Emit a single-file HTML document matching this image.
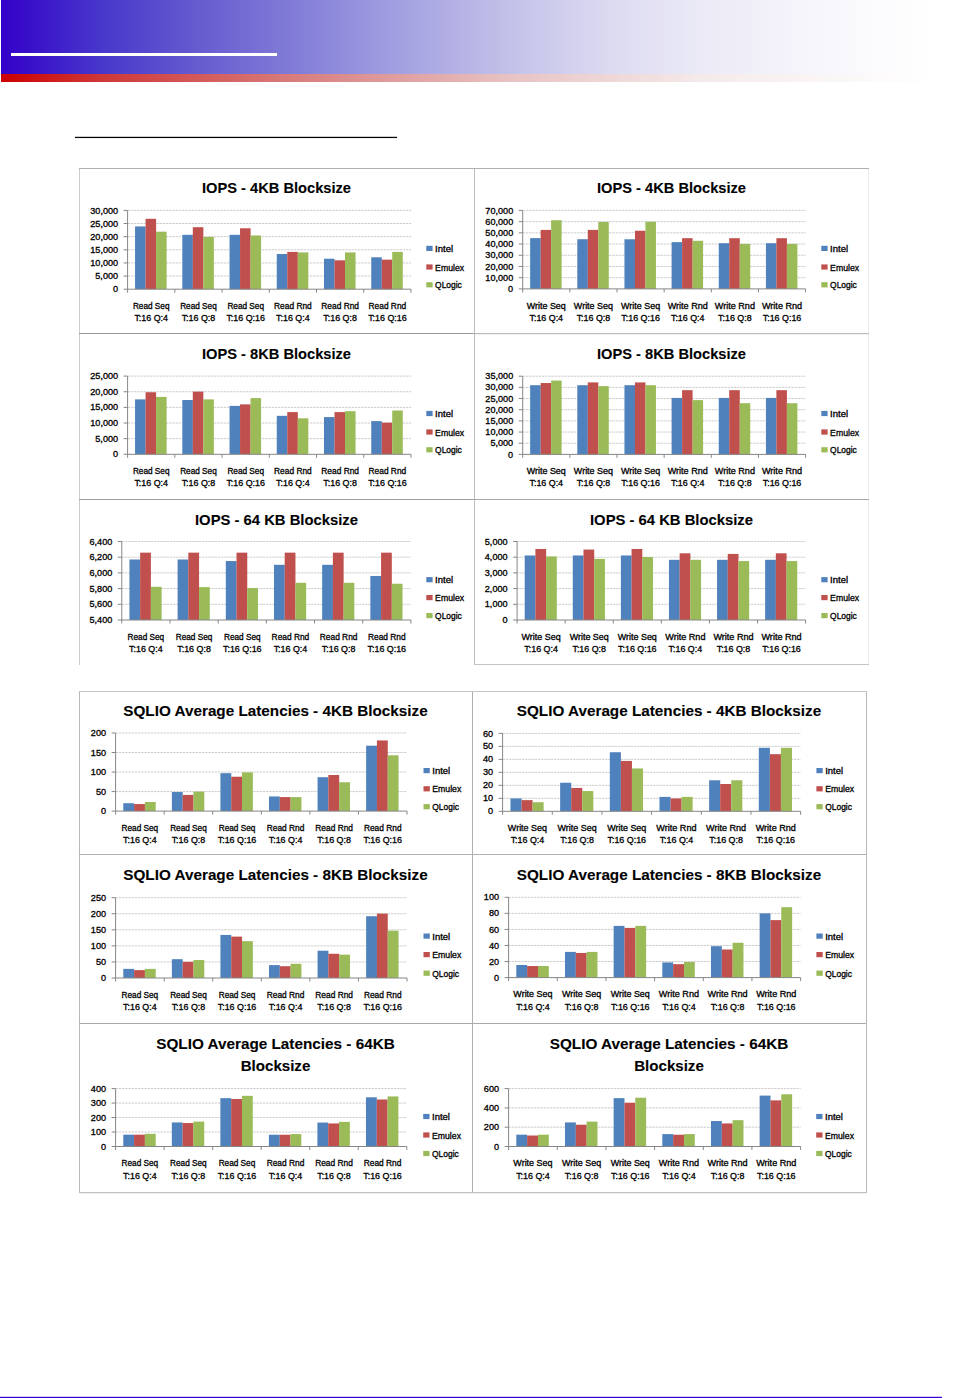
<!DOCTYPE html>
<html><head><meta charset="utf-8"><title>SQLIO results</title>
<style>
html,body{margin:0;padding:0;background:#fff;}
body{width:966px;height:1398px;position:relative;overflow:hidden;font-family:"Liberation Sans",sans-serif;}
svg{position:absolute;left:0;top:0;}
text{font-family:"Liberation Sans",sans-serif;font-size:8.5px;fill:#000;stroke:#000;stroke-width:0.3px;}
.t{font-size:15px;font-weight:bold;stroke-width:0.1px;}
.g{stroke:#cdcdcd;stroke-width:1;stroke-dasharray:2.4 0.8;}
.a{stroke:#868686;stroke-width:1;}
.b{stroke:#a9a9a9;stroke-width:1;}
.b2{stroke:#c4c4c4;stroke-width:1;}
.d{stroke:#8f8f8f;stroke-width:1;}
</style></head>
<body>
<svg width="966" height="1398" viewBox="0 0 966 1398">
<defs>
<linearGradient id="gb" gradientUnits="userSpaceOnUse" x1="1" y1="0" x2="966" y2="0">
<stop offset="0" stop-color="#3300c8"/>
<stop offset="0.1078" stop-color="#4939cc"/>
<stop offset="0.2145" stop-color="#6a5fd0"/>
<stop offset="0.3150" stop-color="#8580d8"/>
<stop offset="0.4187" stop-color="#a5a2e2"/>
<stop offset="0.5223" stop-color="#c2c0e8"/>
<stop offset="0.6259" stop-color="#dbd9f0"/>
<stop offset="0.7295" stop-color="#ebeaf6"/>
<stop offset="0.8332" stop-color="#f6f5fb"/>
<stop offset="0.9627" stop-color="#ffffff"/>
<stop offset="1" stop-color="#ffffff"/>
</linearGradient>
<linearGradient id="gr" gradientUnits="userSpaceOnUse" x1="1" y1="0" x2="966" y2="0">
<stop offset="0" stop-color="#cc0000"/>
<stop offset="0.1067" stop-color="#cf3939"/>
<stop offset="0.2145" stop-color="#d45d5d"/>
<stop offset="0.3140" stop-color="#d98080"/>
<stop offset="0.5254" stop-color="#e8c2c2"/>
<stop offset="0.7285" stop-color="#f5eaea"/>
<stop offset="0.9627" stop-color="#ffffff"/>
<stop offset="1" stop-color="#ffffff"/>
</linearGradient>
</defs>
<rect x="1" y="0" width="965" height="74" fill="url(#gb)"/>
<rect x="1" y="74" width="965" height="8" fill="url(#gr)"/>
<rect x="11" y="53" width="266" height="3" fill="#fff"/>
<rect x="75" y="136.8" width="322" height="1.25" fill="#000"/>
<rect x="0" y="1396.8" width="942" height="1.2" fill="#3300cc"/>

<line x1="79" y1="168.5" x2="869" y2="168.5" stroke="#b0b0b0"/>
<line x1="79.5" y1="169" x2="79.5" y2="665" stroke="#cccccc"/>
<line x1="474.5" y1="169" x2="474.5" y2="665" stroke="#bbbbbb"/>
<line x1="868.5" y1="169" x2="868.5" y2="665" stroke="#ececec"/>
<line x1="79" y1="333.5" x2="474" y2="333.5" stroke="#9a9a9a"/>
<line x1="475" y1="333.7" x2="869" y2="333.7" stroke="#adadad"/>
<line x1="79" y1="499.5" x2="474" y2="499.5" stroke="#a0a0a0"/>
<line x1="475" y1="499.5" x2="869" y2="499.5" stroke="#a8a8a8"/>
<line x1="474" y1="664.5" x2="869" y2="664.5" stroke="#c4c4c4"/>
<line x1="79" y1="691.5" x2="867" y2="691.5" stroke="#c4c4c4"/>
<line x1="79.5" y1="692" x2="79.5" y2="1192" stroke="#b8b8b8"/>
<line x1="866.5" y1="692" x2="866.5" y2="1192" stroke="#b8b8b8"/>
<line x1="79" y1="1192.6" x2="867" y2="1192.6" stroke="#c0c0c0" stroke-width="1.3"/>
<line x1="472.5" y1="692" x2="472.5" y2="1192" stroke="#b0b0b0"/>
<line x1="79" y1="854.5" x2="866" y2="854.5" stroke="#b0b0b0"/>
<line x1="79" y1="1023.5" x2="866" y2="1023.5" stroke="#aaaaaa"/>

<line x1="123.60" y1="289.20" x2="127.60" y2="289.20" class="a"/>
<text x="118.10" y="292.30" text-anchor="end" textLength="5.07" lengthAdjust="spacingAndGlyphs">0</text>
<line x1="127.60" y1="276.07" x2="411.00" y2="276.07" class="g"/>
<line x1="123.60" y1="276.07" x2="127.60" y2="276.07" class="a"/>
<text x="118.10" y="279.17" text-anchor="end" textLength="22.78" lengthAdjust="spacingAndGlyphs">5,000</text>
<line x1="127.60" y1="262.93" x2="411.00" y2="262.93" class="g"/>
<line x1="123.60" y1="262.93" x2="127.60" y2="262.93" class="a"/>
<text x="118.10" y="266.03" text-anchor="end" textLength="27.85" lengthAdjust="spacingAndGlyphs">10,000</text>
<line x1="127.60" y1="249.80" x2="411.00" y2="249.80" class="g"/>
<line x1="123.60" y1="249.80" x2="127.60" y2="249.80" class="a"/>
<text x="118.10" y="252.90" text-anchor="end" textLength="27.85" lengthAdjust="spacingAndGlyphs">15,000</text>
<line x1="127.60" y1="236.67" x2="411.00" y2="236.67" class="g"/>
<line x1="123.60" y1="236.67" x2="127.60" y2="236.67" class="a"/>
<text x="118.10" y="239.77" text-anchor="end" textLength="27.85" lengthAdjust="spacingAndGlyphs">20,000</text>
<line x1="127.60" y1="223.53" x2="411.00" y2="223.53" class="g"/>
<line x1="123.60" y1="223.53" x2="127.60" y2="223.53" class="a"/>
<text x="118.10" y="226.63" text-anchor="end" textLength="27.85" lengthAdjust="spacingAndGlyphs">25,000</text>
<line x1="127.60" y1="210.40" x2="411.00" y2="210.40" class="g"/>
<line x1="123.60" y1="210.40" x2="127.60" y2="210.40" class="a"/>
<text x="118.10" y="213.50" text-anchor="end" textLength="27.85" lengthAdjust="spacingAndGlyphs">30,000</text>
<rect x="135.07" y="226.42" width="10.55" height="62.78" fill="#4f81bd"/>
<rect x="145.57" y="218.81" width="10.55" height="70.39" fill="#c0504d"/>
<rect x="156.06" y="231.68" width="10.55" height="57.52" fill="#9bbb59"/>
<rect x="182.31" y="234.83" width="10.55" height="54.37" fill="#4f81bd"/>
<rect x="192.80" y="227.21" width="10.55" height="61.99" fill="#c0504d"/>
<rect x="203.30" y="236.93" width="10.55" height="52.27" fill="#9bbb59"/>
<rect x="229.54" y="234.83" width="10.55" height="54.37" fill="#4f81bd"/>
<rect x="240.04" y="228.26" width="10.55" height="60.94" fill="#c0504d"/>
<rect x="250.53" y="235.48" width="10.55" height="53.72" fill="#9bbb59"/>
<rect x="276.77" y="254.00" width="10.55" height="35.20" fill="#4f81bd"/>
<rect x="287.27" y="251.90" width="10.55" height="37.30" fill="#c0504d"/>
<rect x="297.76" y="252.43" width="10.55" height="36.77" fill="#9bbb59"/>
<rect x="324.01" y="258.73" width="10.55" height="30.47" fill="#4f81bd"/>
<rect x="334.50" y="260.31" width="10.55" height="28.89" fill="#c0504d"/>
<rect x="345.00" y="252.43" width="10.55" height="36.77" fill="#9bbb59"/>
<rect x="371.24" y="257.29" width="10.55" height="31.91" fill="#4f81bd"/>
<rect x="381.74" y="259.65" width="10.55" height="29.55" fill="#c0504d"/>
<rect x="392.23" y="251.90" width="10.55" height="37.30" fill="#9bbb59"/>
<line x1="127.60" y1="210.40" x2="127.60" y2="292.70" class="a"/>
<line x1="127.60" y1="289.20" x2="411.00" y2="289.20" class="a"/>
<line x1="174.83" y1="289.20" x2="174.83" y2="292.70" class="a"/>
<line x1="222.07" y1="289.20" x2="222.07" y2="292.70" class="a"/>
<line x1="269.30" y1="289.20" x2="269.30" y2="292.70" class="a"/>
<line x1="316.53" y1="289.20" x2="316.53" y2="292.70" class="a"/>
<line x1="363.77" y1="289.20" x2="363.77" y2="292.70" class="a"/>
<line x1="411.00" y1="289.20" x2="411.00" y2="292.70" class="a"/>
<text x="151.22" y="308.80" text-anchor="middle" textLength="36.59" lengthAdjust="spacingAndGlyphs">Read Seq</text>
<text x="151.22" y="321.20" text-anchor="middle" textLength="33.57" lengthAdjust="spacingAndGlyphs">T:16 Q:4</text>
<text x="198.45" y="308.80" text-anchor="middle" textLength="36.59" lengthAdjust="spacingAndGlyphs">Read Seq</text>
<text x="198.45" y="321.20" text-anchor="middle" textLength="33.57" lengthAdjust="spacingAndGlyphs">T:16 Q:8</text>
<text x="245.68" y="308.80" text-anchor="middle" textLength="36.59" lengthAdjust="spacingAndGlyphs">Read Seq</text>
<text x="245.68" y="321.20" text-anchor="middle" textLength="38.51" lengthAdjust="spacingAndGlyphs">T:16 Q:16</text>
<text x="292.92" y="308.80" text-anchor="middle" textLength="37.67" lengthAdjust="spacingAndGlyphs">Read Rnd</text>
<text x="292.92" y="321.20" text-anchor="middle" textLength="33.57" lengthAdjust="spacingAndGlyphs">T:16 Q:4</text>
<text x="340.15" y="308.80" text-anchor="middle" textLength="37.67" lengthAdjust="spacingAndGlyphs">Read Rnd</text>
<text x="340.15" y="321.20" text-anchor="middle" textLength="33.57" lengthAdjust="spacingAndGlyphs">T:16 Q:8</text>
<text x="387.38" y="308.80" text-anchor="middle" textLength="37.67" lengthAdjust="spacingAndGlyphs">Read Rnd</text>
<text x="387.38" y="321.20" text-anchor="middle" textLength="38.51" lengthAdjust="spacingAndGlyphs">T:16 Q:16</text>
<rect x="426.30" y="245.80" width="6.3" height="5.2" fill="#4f81bd"/>
<text x="435.10" y="252.00" textLength="17.93" lengthAdjust="spacingAndGlyphs">Intel</text>
<rect x="426.30" y="264.40" width="6.3" height="5.2" fill="#c0504d"/>
<text x="435.10" y="270.60" textLength="28.98" lengthAdjust="spacingAndGlyphs">Emulex</text>
<rect x="426.30" y="282.20" width="6.3" height="5.2" fill="#9bbb59"/>
<text x="435.10" y="288.40" textLength="26.74" lengthAdjust="spacingAndGlyphs">QLogic</text>
<text x="276.50" y="193.10" text-anchor="middle" class="t" textLength="149" lengthAdjust="spacingAndGlyphs">IOPS - 4KB Blocksize</text>
<line x1="518.70" y1="288.90" x2="522.70" y2="288.90" class="a"/>
<text x="513.20" y="292.00" text-anchor="end" textLength="5.07" lengthAdjust="spacingAndGlyphs">0</text>
<line x1="522.70" y1="277.69" x2="805.60" y2="277.69" class="g"/>
<line x1="518.70" y1="277.69" x2="522.70" y2="277.69" class="a"/>
<text x="513.20" y="280.79" text-anchor="end" textLength="27.85" lengthAdjust="spacingAndGlyphs">10,000</text>
<line x1="522.70" y1="266.47" x2="805.60" y2="266.47" class="g"/>
<line x1="518.70" y1="266.47" x2="522.70" y2="266.47" class="a"/>
<text x="513.20" y="269.57" text-anchor="end" textLength="27.85" lengthAdjust="spacingAndGlyphs">20,000</text>
<line x1="522.70" y1="255.26" x2="805.60" y2="255.26" class="g"/>
<line x1="518.70" y1="255.26" x2="522.70" y2="255.26" class="a"/>
<text x="513.20" y="258.36" text-anchor="end" textLength="27.85" lengthAdjust="spacingAndGlyphs">30,000</text>
<line x1="522.70" y1="244.04" x2="805.60" y2="244.04" class="g"/>
<line x1="518.70" y1="244.04" x2="522.70" y2="244.04" class="a"/>
<text x="513.20" y="247.14" text-anchor="end" textLength="27.85" lengthAdjust="spacingAndGlyphs">40,000</text>
<line x1="522.70" y1="232.83" x2="805.60" y2="232.83" class="g"/>
<line x1="518.70" y1="232.83" x2="522.70" y2="232.83" class="a"/>
<text x="513.20" y="235.93" text-anchor="end" textLength="27.85" lengthAdjust="spacingAndGlyphs">50,000</text>
<line x1="522.70" y1="221.61" x2="805.60" y2="221.61" class="g"/>
<line x1="518.70" y1="221.61" x2="522.70" y2="221.61" class="a"/>
<text x="513.20" y="224.71" text-anchor="end" textLength="27.85" lengthAdjust="spacingAndGlyphs">60,000</text>
<line x1="522.70" y1="210.40" x2="805.60" y2="210.40" class="g"/>
<line x1="518.70" y1="210.40" x2="522.70" y2="210.40" class="a"/>
<text x="513.20" y="213.50" text-anchor="end" textLength="27.85" lengthAdjust="spacingAndGlyphs">70,000</text>
<rect x="530.16" y="238.10" width="10.53" height="50.80" fill="#4f81bd"/>
<rect x="540.64" y="229.91" width="10.53" height="58.99" fill="#c0504d"/>
<rect x="551.11" y="220.21" width="10.53" height="68.69" fill="#9bbb59"/>
<rect x="577.31" y="239.22" width="10.53" height="49.68" fill="#4f81bd"/>
<rect x="587.79" y="229.91" width="10.53" height="58.99" fill="#c0504d"/>
<rect x="598.26" y="221.95" width="10.53" height="66.95" fill="#9bbb59"/>
<rect x="624.46" y="239.28" width="10.53" height="49.62" fill="#4f81bd"/>
<rect x="634.94" y="230.75" width="10.53" height="58.15" fill="#c0504d"/>
<rect x="645.41" y="221.79" width="10.53" height="67.11" fill="#9bbb59"/>
<rect x="671.61" y="242.14" width="10.53" height="46.76" fill="#4f81bd"/>
<rect x="682.09" y="238.19" width="10.53" height="50.71" fill="#c0504d"/>
<rect x="692.56" y="240.81" width="10.53" height="48.09" fill="#9bbb59"/>
<rect x="718.76" y="243.21" width="10.53" height="45.69" fill="#4f81bd"/>
<rect x="729.24" y="238.19" width="10.53" height="50.71" fill="#c0504d"/>
<rect x="739.71" y="243.87" width="10.53" height="45.03" fill="#9bbb59"/>
<rect x="765.91" y="243.21" width="10.53" height="45.69" fill="#4f81bd"/>
<rect x="776.39" y="238.19" width="10.53" height="50.71" fill="#c0504d"/>
<rect x="786.86" y="243.87" width="10.53" height="45.03" fill="#9bbb59"/>
<line x1="522.70" y1="210.40" x2="522.70" y2="292.40" class="a"/>
<line x1="522.70" y1="288.90" x2="805.60" y2="288.90" class="a"/>
<line x1="569.85" y1="288.90" x2="569.85" y2="292.40" class="a"/>
<line x1="617.00" y1="288.90" x2="617.00" y2="292.40" class="a"/>
<line x1="664.15" y1="288.90" x2="664.15" y2="292.40" class="a"/>
<line x1="711.30" y1="288.90" x2="711.30" y2="292.40" class="a"/>
<line x1="758.45" y1="288.90" x2="758.45" y2="292.40" class="a"/>
<line x1="805.60" y1="288.90" x2="805.60" y2="292.40" class="a"/>
<text x="546.28" y="308.50" text-anchor="middle" textLength="39.09" lengthAdjust="spacingAndGlyphs">Write Seq</text>
<text x="546.28" y="320.90" text-anchor="middle" textLength="33.57" lengthAdjust="spacingAndGlyphs">T:16 Q:4</text>
<text x="593.43" y="308.50" text-anchor="middle" textLength="39.09" lengthAdjust="spacingAndGlyphs">Write Seq</text>
<text x="593.43" y="320.90" text-anchor="middle" textLength="33.57" lengthAdjust="spacingAndGlyphs">T:16 Q:8</text>
<text x="640.58" y="308.50" text-anchor="middle" textLength="39.09" lengthAdjust="spacingAndGlyphs">Write Seq</text>
<text x="640.58" y="320.90" text-anchor="middle" textLength="38.51" lengthAdjust="spacingAndGlyphs">T:16 Q:16</text>
<text x="687.73" y="308.50" text-anchor="middle" textLength="40.17" lengthAdjust="spacingAndGlyphs">Write Rnd</text>
<text x="687.73" y="320.90" text-anchor="middle" textLength="33.57" lengthAdjust="spacingAndGlyphs">T:16 Q:4</text>
<text x="734.88" y="308.50" text-anchor="middle" textLength="40.17" lengthAdjust="spacingAndGlyphs">Write Rnd</text>
<text x="734.88" y="320.90" text-anchor="middle" textLength="33.57" lengthAdjust="spacingAndGlyphs">T:16 Q:8</text>
<text x="782.03" y="308.50" text-anchor="middle" textLength="40.17" lengthAdjust="spacingAndGlyphs">Write Rnd</text>
<text x="782.03" y="320.90" text-anchor="middle" textLength="38.51" lengthAdjust="spacingAndGlyphs">T:16 Q:16</text>
<rect x="821.30" y="245.80" width="6.3" height="5.2" fill="#4f81bd"/>
<text x="830.10" y="252.00" textLength="17.93" lengthAdjust="spacingAndGlyphs">Intel</text>
<rect x="821.30" y="264.40" width="6.3" height="5.2" fill="#c0504d"/>
<text x="830.10" y="270.60" textLength="28.98" lengthAdjust="spacingAndGlyphs">Emulex</text>
<rect x="821.30" y="282.20" width="6.3" height="5.2" fill="#9bbb59"/>
<text x="830.10" y="288.40" textLength="26.74" lengthAdjust="spacingAndGlyphs">QLogic</text>
<text x="671.50" y="193.10" text-anchor="middle" class="t" textLength="149" lengthAdjust="spacingAndGlyphs">IOPS - 4KB Blocksize</text>
<line x1="123.60" y1="454.30" x2="127.60" y2="454.30" class="a"/>
<text x="118.10" y="457.40" text-anchor="end" textLength="5.07" lengthAdjust="spacingAndGlyphs">0</text>
<line x1="127.60" y1="438.66" x2="411.00" y2="438.66" class="g"/>
<line x1="123.60" y1="438.66" x2="127.60" y2="438.66" class="a"/>
<text x="118.10" y="441.76" text-anchor="end" textLength="22.78" lengthAdjust="spacingAndGlyphs">5,000</text>
<line x1="127.60" y1="423.02" x2="411.00" y2="423.02" class="g"/>
<line x1="123.60" y1="423.02" x2="127.60" y2="423.02" class="a"/>
<text x="118.10" y="426.12" text-anchor="end" textLength="27.85" lengthAdjust="spacingAndGlyphs">10,000</text>
<line x1="127.60" y1="407.38" x2="411.00" y2="407.38" class="g"/>
<line x1="123.60" y1="407.38" x2="127.60" y2="407.38" class="a"/>
<text x="118.10" y="410.48" text-anchor="end" textLength="27.85" lengthAdjust="spacingAndGlyphs">15,000</text>
<line x1="127.60" y1="391.74" x2="411.00" y2="391.74" class="g"/>
<line x1="123.60" y1="391.74" x2="127.60" y2="391.74" class="a"/>
<text x="118.10" y="394.84" text-anchor="end" textLength="27.85" lengthAdjust="spacingAndGlyphs">20,000</text>
<line x1="127.60" y1="376.10" x2="411.00" y2="376.10" class="g"/>
<line x1="123.60" y1="376.10" x2="127.60" y2="376.10" class="a"/>
<text x="118.10" y="379.20" text-anchor="end" textLength="27.85" lengthAdjust="spacingAndGlyphs">25,000</text>
<rect x="135.07" y="399.37" width="10.55" height="54.93" fill="#4f81bd"/>
<rect x="145.57" y="392.24" width="10.55" height="62.06" fill="#c0504d"/>
<rect x="156.06" y="396.90" width="10.55" height="57.40" fill="#9bbb59"/>
<rect x="182.31" y="400.00" width="10.55" height="54.30" fill="#4f81bd"/>
<rect x="192.80" y="391.61" width="10.55" height="62.69" fill="#c0504d"/>
<rect x="203.30" y="399.37" width="10.55" height="54.93" fill="#9bbb59"/>
<rect x="229.54" y="405.88" width="10.55" height="48.42" fill="#4f81bd"/>
<rect x="240.04" y="404.35" width="10.55" height="49.95" fill="#c0504d"/>
<rect x="250.53" y="398.12" width="10.55" height="56.18" fill="#9bbb59"/>
<rect x="276.77" y="415.83" width="10.55" height="38.47" fill="#4f81bd"/>
<rect x="287.27" y="412.10" width="10.55" height="42.20" fill="#c0504d"/>
<rect x="297.76" y="418.30" width="10.55" height="36.00" fill="#9bbb59"/>
<rect x="324.01" y="417.08" width="10.55" height="37.22" fill="#4f81bd"/>
<rect x="334.50" y="412.10" width="10.55" height="42.20" fill="#c0504d"/>
<rect x="345.00" y="411.16" width="10.55" height="43.14" fill="#9bbb59"/>
<rect x="371.24" y="421.10" width="10.55" height="33.20" fill="#4f81bd"/>
<rect x="381.74" y="422.64" width="10.55" height="31.66" fill="#c0504d"/>
<rect x="392.23" y="410.54" width="10.55" height="43.76" fill="#9bbb59"/>
<line x1="127.60" y1="376.10" x2="127.60" y2="457.80" class="a"/>
<line x1="127.60" y1="454.30" x2="411.00" y2="454.30" class="a"/>
<line x1="174.83" y1="454.30" x2="174.83" y2="457.80" class="a"/>
<line x1="222.07" y1="454.30" x2="222.07" y2="457.80" class="a"/>
<line x1="269.30" y1="454.30" x2="269.30" y2="457.80" class="a"/>
<line x1="316.53" y1="454.30" x2="316.53" y2="457.80" class="a"/>
<line x1="363.77" y1="454.30" x2="363.77" y2="457.80" class="a"/>
<line x1="411.00" y1="454.30" x2="411.00" y2="457.80" class="a"/>
<text x="151.22" y="473.90" text-anchor="middle" textLength="36.59" lengthAdjust="spacingAndGlyphs">Read Seq</text>
<text x="151.22" y="486.30" text-anchor="middle" textLength="33.57" lengthAdjust="spacingAndGlyphs">T:16 Q:4</text>
<text x="198.45" y="473.90" text-anchor="middle" textLength="36.59" lengthAdjust="spacingAndGlyphs">Read Seq</text>
<text x="198.45" y="486.30" text-anchor="middle" textLength="33.57" lengthAdjust="spacingAndGlyphs">T:16 Q:8</text>
<text x="245.68" y="473.90" text-anchor="middle" textLength="36.59" lengthAdjust="spacingAndGlyphs">Read Seq</text>
<text x="245.68" y="486.30" text-anchor="middle" textLength="38.51" lengthAdjust="spacingAndGlyphs">T:16 Q:16</text>
<text x="292.92" y="473.90" text-anchor="middle" textLength="37.67" lengthAdjust="spacingAndGlyphs">Read Rnd</text>
<text x="292.92" y="486.30" text-anchor="middle" textLength="33.57" lengthAdjust="spacingAndGlyphs">T:16 Q:4</text>
<text x="340.15" y="473.90" text-anchor="middle" textLength="37.67" lengthAdjust="spacingAndGlyphs">Read Rnd</text>
<text x="340.15" y="486.30" text-anchor="middle" textLength="33.57" lengthAdjust="spacingAndGlyphs">T:16 Q:8</text>
<text x="387.38" y="473.90" text-anchor="middle" textLength="37.67" lengthAdjust="spacingAndGlyphs">Read Rnd</text>
<text x="387.38" y="486.30" text-anchor="middle" textLength="38.51" lengthAdjust="spacingAndGlyphs">T:16 Q:16</text>
<rect x="426.30" y="410.90" width="6.3" height="5.2" fill="#4f81bd"/>
<text x="435.10" y="417.10" textLength="17.93" lengthAdjust="spacingAndGlyphs">Intel</text>
<rect x="426.30" y="429.40" width="6.3" height="5.2" fill="#c0504d"/>
<text x="435.10" y="435.60" textLength="28.98" lengthAdjust="spacingAndGlyphs">Emulex</text>
<rect x="426.30" y="447.20" width="6.3" height="5.2" fill="#9bbb59"/>
<text x="435.10" y="453.40" textLength="26.74" lengthAdjust="spacingAndGlyphs">QLogic</text>
<text x="276.50" y="358.50" text-anchor="middle" class="t" textLength="149" lengthAdjust="spacingAndGlyphs">IOPS - 8KB Blocksize</text>
<line x1="518.70" y1="454.40" x2="522.70" y2="454.40" class="a"/>
<text x="513.20" y="457.50" text-anchor="end" textLength="5.07" lengthAdjust="spacingAndGlyphs">0</text>
<line x1="522.70" y1="443.23" x2="805.60" y2="443.23" class="g"/>
<line x1="518.70" y1="443.23" x2="522.70" y2="443.23" class="a"/>
<text x="513.20" y="446.33" text-anchor="end" textLength="22.78" lengthAdjust="spacingAndGlyphs">5,000</text>
<line x1="522.70" y1="432.06" x2="805.60" y2="432.06" class="g"/>
<line x1="518.70" y1="432.06" x2="522.70" y2="432.06" class="a"/>
<text x="513.20" y="435.16" text-anchor="end" textLength="27.85" lengthAdjust="spacingAndGlyphs">10,000</text>
<line x1="522.70" y1="420.89" x2="805.60" y2="420.89" class="g"/>
<line x1="518.70" y1="420.89" x2="522.70" y2="420.89" class="a"/>
<text x="513.20" y="423.99" text-anchor="end" textLength="27.85" lengthAdjust="spacingAndGlyphs">15,000</text>
<line x1="522.70" y1="409.71" x2="805.60" y2="409.71" class="g"/>
<line x1="518.70" y1="409.71" x2="522.70" y2="409.71" class="a"/>
<text x="513.20" y="412.81" text-anchor="end" textLength="27.85" lengthAdjust="spacingAndGlyphs">20,000</text>
<line x1="522.70" y1="398.54" x2="805.60" y2="398.54" class="g"/>
<line x1="518.70" y1="398.54" x2="522.70" y2="398.54" class="a"/>
<text x="513.20" y="401.64" text-anchor="end" textLength="27.85" lengthAdjust="spacingAndGlyphs">25,000</text>
<line x1="522.70" y1="387.37" x2="805.60" y2="387.37" class="g"/>
<line x1="518.70" y1="387.37" x2="522.70" y2="387.37" class="a"/>
<text x="513.20" y="390.47" text-anchor="end" textLength="27.85" lengthAdjust="spacingAndGlyphs">30,000</text>
<line x1="522.70" y1="376.20" x2="805.60" y2="376.20" class="g"/>
<line x1="518.70" y1="376.20" x2="522.70" y2="376.20" class="a"/>
<text x="513.20" y="379.30" text-anchor="end" textLength="27.85" lengthAdjust="spacingAndGlyphs">35,000</text>
<rect x="530.16" y="385.20" width="10.53" height="69.20" fill="#4f81bd"/>
<rect x="540.64" y="383.04" width="10.53" height="71.36" fill="#c0504d"/>
<rect x="551.11" y="380.56" width="10.53" height="73.84" fill="#9bbb59"/>
<rect x="577.31" y="385.20" width="10.53" height="69.20" fill="#4f81bd"/>
<rect x="587.79" y="382.41" width="10.53" height="71.99" fill="#c0504d"/>
<rect x="598.26" y="386.14" width="10.53" height="68.26" fill="#9bbb59"/>
<rect x="624.46" y="385.20" width="10.53" height="69.20" fill="#4f81bd"/>
<rect x="634.94" y="382.41" width="10.53" height="71.99" fill="#c0504d"/>
<rect x="645.41" y="385.20" width="10.53" height="69.20" fill="#9bbb59"/>
<rect x="671.61" y="397.92" width="10.53" height="56.48" fill="#4f81bd"/>
<rect x="682.09" y="390.16" width="10.53" height="64.24" fill="#c0504d"/>
<rect x="692.56" y="400.11" width="10.53" height="54.29" fill="#9bbb59"/>
<rect x="718.76" y="397.92" width="10.53" height="56.48" fill="#4f81bd"/>
<rect x="729.24" y="390.16" width="10.53" height="64.24" fill="#c0504d"/>
<rect x="739.71" y="403.19" width="10.53" height="51.21" fill="#9bbb59"/>
<rect x="765.91" y="397.92" width="10.53" height="56.48" fill="#4f81bd"/>
<rect x="776.39" y="390.16" width="10.53" height="64.24" fill="#c0504d"/>
<rect x="786.86" y="403.19" width="10.53" height="51.21" fill="#9bbb59"/>
<line x1="522.70" y1="376.20" x2="522.70" y2="457.90" class="a"/>
<line x1="522.70" y1="454.40" x2="805.60" y2="454.40" class="a"/>
<line x1="569.85" y1="454.40" x2="569.85" y2="457.90" class="a"/>
<line x1="617.00" y1="454.40" x2="617.00" y2="457.90" class="a"/>
<line x1="664.15" y1="454.40" x2="664.15" y2="457.90" class="a"/>
<line x1="711.30" y1="454.40" x2="711.30" y2="457.90" class="a"/>
<line x1="758.45" y1="454.40" x2="758.45" y2="457.90" class="a"/>
<line x1="805.60" y1="454.40" x2="805.60" y2="457.90" class="a"/>
<text x="546.28" y="474.00" text-anchor="middle" textLength="39.09" lengthAdjust="spacingAndGlyphs">Write Seq</text>
<text x="546.28" y="486.40" text-anchor="middle" textLength="33.57" lengthAdjust="spacingAndGlyphs">T:16 Q:4</text>
<text x="593.43" y="474.00" text-anchor="middle" textLength="39.09" lengthAdjust="spacingAndGlyphs">Write Seq</text>
<text x="593.43" y="486.40" text-anchor="middle" textLength="33.57" lengthAdjust="spacingAndGlyphs">T:16 Q:8</text>
<text x="640.58" y="474.00" text-anchor="middle" textLength="39.09" lengthAdjust="spacingAndGlyphs">Write Seq</text>
<text x="640.58" y="486.40" text-anchor="middle" textLength="38.51" lengthAdjust="spacingAndGlyphs">T:16 Q:16</text>
<text x="687.73" y="474.00" text-anchor="middle" textLength="40.17" lengthAdjust="spacingAndGlyphs">Write Rnd</text>
<text x="687.73" y="486.40" text-anchor="middle" textLength="33.57" lengthAdjust="spacingAndGlyphs">T:16 Q:4</text>
<text x="734.88" y="474.00" text-anchor="middle" textLength="40.17" lengthAdjust="spacingAndGlyphs">Write Rnd</text>
<text x="734.88" y="486.40" text-anchor="middle" textLength="33.57" lengthAdjust="spacingAndGlyphs">T:16 Q:8</text>
<text x="782.03" y="474.00" text-anchor="middle" textLength="40.17" lengthAdjust="spacingAndGlyphs">Write Rnd</text>
<text x="782.03" y="486.40" text-anchor="middle" textLength="38.51" lengthAdjust="spacingAndGlyphs">T:16 Q:16</text>
<rect x="821.30" y="410.90" width="6.3" height="5.2" fill="#4f81bd"/>
<text x="830.10" y="417.10" textLength="17.93" lengthAdjust="spacingAndGlyphs">Intel</text>
<rect x="821.30" y="429.40" width="6.3" height="5.2" fill="#c0504d"/>
<text x="830.10" y="435.60" textLength="28.98" lengthAdjust="spacingAndGlyphs">Emulex</text>
<rect x="821.30" y="447.20" width="6.3" height="5.2" fill="#9bbb59"/>
<text x="830.10" y="453.40" textLength="26.74" lengthAdjust="spacingAndGlyphs">QLogic</text>
<text x="671.50" y="358.50" text-anchor="middle" class="t" textLength="149" lengthAdjust="spacingAndGlyphs">IOPS - 8KB Blocksize</text>
<line x1="117.80" y1="620.00" x2="121.80" y2="620.00" class="a"/>
<text x="112.30" y="623.10" text-anchor="end" textLength="22.78" lengthAdjust="spacingAndGlyphs">5,400</text>
<line x1="121.80" y1="604.30" x2="410.90" y2="604.30" class="g"/>
<line x1="117.80" y1="604.30" x2="121.80" y2="604.30" class="a"/>
<text x="112.30" y="607.40" text-anchor="end" textLength="22.78" lengthAdjust="spacingAndGlyphs">5,600</text>
<line x1="121.80" y1="588.60" x2="410.90" y2="588.60" class="g"/>
<line x1="117.80" y1="588.60" x2="121.80" y2="588.60" class="a"/>
<text x="112.30" y="591.70" text-anchor="end" textLength="22.78" lengthAdjust="spacingAndGlyphs">5,800</text>
<line x1="121.80" y1="572.90" x2="410.90" y2="572.90" class="g"/>
<line x1="117.80" y1="572.90" x2="121.80" y2="572.90" class="a"/>
<text x="112.30" y="576.00" text-anchor="end" textLength="22.78" lengthAdjust="spacingAndGlyphs">6,000</text>
<line x1="121.80" y1="557.20" x2="410.90" y2="557.20" class="g"/>
<line x1="117.80" y1="557.20" x2="121.80" y2="557.20" class="a"/>
<text x="112.30" y="560.30" text-anchor="end" textLength="22.78" lengthAdjust="spacingAndGlyphs">6,200</text>
<line x1="121.80" y1="541.50" x2="410.90" y2="541.50" class="g"/>
<line x1="117.80" y1="541.50" x2="121.80" y2="541.50" class="a"/>
<text x="112.30" y="544.60" text-anchor="end" textLength="22.78" lengthAdjust="spacingAndGlyphs">6,400</text>
<rect x="129.43" y="559.48" width="10.76" height="60.52" fill="#4f81bd"/>
<rect x="140.14" y="552.65" width="10.76" height="67.35" fill="#c0504d"/>
<rect x="150.85" y="586.79" width="10.76" height="33.21" fill="#9bbb59"/>
<rect x="177.61" y="559.48" width="10.76" height="60.52" fill="#4f81bd"/>
<rect x="188.32" y="552.65" width="10.76" height="67.35" fill="#c0504d"/>
<rect x="199.03" y="587.11" width="10.76" height="32.89" fill="#9bbb59"/>
<rect x="225.80" y="561.05" width="10.76" height="58.95" fill="#4f81bd"/>
<rect x="236.50" y="552.65" width="10.76" height="67.35" fill="#c0504d"/>
<rect x="247.21" y="588.05" width="10.76" height="31.95" fill="#9bbb59"/>
<rect x="273.98" y="564.81" width="10.76" height="55.19" fill="#4f81bd"/>
<rect x="284.69" y="552.65" width="10.76" height="67.35" fill="#c0504d"/>
<rect x="295.40" y="582.79" width="10.76" height="37.21" fill="#9bbb59"/>
<rect x="322.16" y="564.81" width="10.76" height="55.19" fill="#4f81bd"/>
<rect x="332.87" y="552.65" width="10.76" height="67.35" fill="#c0504d"/>
<rect x="343.58" y="582.79" width="10.76" height="37.21" fill="#9bbb59"/>
<rect x="370.35" y="575.96" width="10.76" height="44.04" fill="#4f81bd"/>
<rect x="381.05" y="552.65" width="10.76" height="67.35" fill="#c0504d"/>
<rect x="391.76" y="583.73" width="10.76" height="36.27" fill="#9bbb59"/>
<line x1="121.80" y1="541.50" x2="121.80" y2="623.50" class="a"/>
<line x1="121.80" y1="620.00" x2="410.90" y2="620.00" class="a"/>
<line x1="169.98" y1="620.00" x2="169.98" y2="623.50" class="a"/>
<line x1="218.17" y1="620.00" x2="218.17" y2="623.50" class="a"/>
<line x1="266.35" y1="620.00" x2="266.35" y2="623.50" class="a"/>
<line x1="314.53" y1="620.00" x2="314.53" y2="623.50" class="a"/>
<line x1="362.72" y1="620.00" x2="362.72" y2="623.50" class="a"/>
<line x1="410.90" y1="620.00" x2="410.90" y2="623.50" class="a"/>
<text x="145.89" y="639.60" text-anchor="middle" textLength="36.59" lengthAdjust="spacingAndGlyphs">Read Seq</text>
<text x="145.89" y="652.00" text-anchor="middle" textLength="33.57" lengthAdjust="spacingAndGlyphs">T:16 Q:4</text>
<text x="194.07" y="639.60" text-anchor="middle" textLength="36.59" lengthAdjust="spacingAndGlyphs">Read Seq</text>
<text x="194.07" y="652.00" text-anchor="middle" textLength="33.57" lengthAdjust="spacingAndGlyphs">T:16 Q:8</text>
<text x="242.26" y="639.60" text-anchor="middle" textLength="36.59" lengthAdjust="spacingAndGlyphs">Read Seq</text>
<text x="242.26" y="652.00" text-anchor="middle" textLength="38.51" lengthAdjust="spacingAndGlyphs">T:16 Q:16</text>
<text x="290.44" y="639.60" text-anchor="middle" textLength="37.67" lengthAdjust="spacingAndGlyphs">Read Rnd</text>
<text x="290.44" y="652.00" text-anchor="middle" textLength="33.57" lengthAdjust="spacingAndGlyphs">T:16 Q:4</text>
<text x="338.62" y="639.60" text-anchor="middle" textLength="37.67" lengthAdjust="spacingAndGlyphs">Read Rnd</text>
<text x="338.62" y="652.00" text-anchor="middle" textLength="33.57" lengthAdjust="spacingAndGlyphs">T:16 Q:8</text>
<text x="386.81" y="639.60" text-anchor="middle" textLength="37.67" lengthAdjust="spacingAndGlyphs">Read Rnd</text>
<text x="386.81" y="652.00" text-anchor="middle" textLength="38.51" lengthAdjust="spacingAndGlyphs">T:16 Q:16</text>
<rect x="426.30" y="577.10" width="6.3" height="5.2" fill="#4f81bd"/>
<text x="435.10" y="583.30" textLength="17.93" lengthAdjust="spacingAndGlyphs">Intel</text>
<rect x="426.30" y="595.00" width="6.3" height="5.2" fill="#c0504d"/>
<text x="435.10" y="601.20" textLength="28.98" lengthAdjust="spacingAndGlyphs">Emulex</text>
<rect x="426.30" y="613.00" width="6.3" height="5.2" fill="#9bbb59"/>
<text x="435.10" y="619.20" textLength="26.74" lengthAdjust="spacingAndGlyphs">QLogic</text>
<text x="276.50" y="524.70" text-anchor="middle" class="t" textLength="163" lengthAdjust="spacingAndGlyphs">IOPS - 64 KB Blocksize</text>
<line x1="513.10" y1="620.00" x2="517.10" y2="620.00" class="a"/>
<text x="507.60" y="623.10" text-anchor="end" textLength="5.07" lengthAdjust="spacingAndGlyphs">0</text>
<line x1="517.10" y1="604.30" x2="805.60" y2="604.30" class="g"/>
<line x1="513.10" y1="604.30" x2="517.10" y2="604.30" class="a"/>
<text x="507.60" y="607.40" text-anchor="end" textLength="22.78" lengthAdjust="spacingAndGlyphs">1,000</text>
<line x1="517.10" y1="588.60" x2="805.60" y2="588.60" class="g"/>
<line x1="513.10" y1="588.60" x2="517.10" y2="588.60" class="a"/>
<text x="507.60" y="591.70" text-anchor="end" textLength="22.78" lengthAdjust="spacingAndGlyphs">2,000</text>
<line x1="517.10" y1="572.90" x2="805.60" y2="572.90" class="g"/>
<line x1="513.10" y1="572.90" x2="517.10" y2="572.90" class="a"/>
<text x="507.60" y="576.00" text-anchor="end" textLength="22.78" lengthAdjust="spacingAndGlyphs">3,000</text>
<line x1="517.10" y1="557.20" x2="805.60" y2="557.20" class="g"/>
<line x1="513.10" y1="557.20" x2="517.10" y2="557.20" class="a"/>
<text x="507.60" y="560.30" text-anchor="end" textLength="22.78" lengthAdjust="spacingAndGlyphs">4,000</text>
<line x1="517.10" y1="541.50" x2="805.60" y2="541.50" class="g"/>
<line x1="513.10" y1="541.50" x2="517.10" y2="541.50" class="a"/>
<text x="507.60" y="544.60" text-anchor="end" textLength="22.78" lengthAdjust="spacingAndGlyphs">5,000</text>
<rect x="524.71" y="555.47" width="10.74" height="64.53" fill="#4f81bd"/>
<rect x="535.40" y="548.94" width="10.74" height="71.06" fill="#c0504d"/>
<rect x="546.08" y="556.40" width="10.74" height="63.60" fill="#9bbb59"/>
<rect x="572.80" y="555.47" width="10.74" height="64.53" fill="#4f81bd"/>
<rect x="583.48" y="549.57" width="10.74" height="70.43" fill="#c0504d"/>
<rect x="594.17" y="558.88" width="10.74" height="61.12" fill="#9bbb59"/>
<rect x="620.88" y="555.47" width="10.74" height="64.53" fill="#4f81bd"/>
<rect x="631.57" y="548.94" width="10.74" height="71.06" fill="#c0504d"/>
<rect x="642.25" y="557.01" width="10.74" height="62.99" fill="#9bbb59"/>
<rect x="668.96" y="559.81" width="10.74" height="60.19" fill="#4f81bd"/>
<rect x="679.65" y="553.29" width="10.74" height="66.71" fill="#c0504d"/>
<rect x="690.33" y="559.81" width="10.74" height="60.19" fill="#9bbb59"/>
<rect x="717.05" y="559.81" width="10.74" height="60.19" fill="#4f81bd"/>
<rect x="727.73" y="553.92" width="10.74" height="66.08" fill="#c0504d"/>
<rect x="738.42" y="561.05" width="10.74" height="58.95" fill="#9bbb59"/>
<rect x="765.13" y="559.81" width="10.74" height="60.19" fill="#4f81bd"/>
<rect x="775.82" y="553.29" width="10.74" height="66.71" fill="#c0504d"/>
<rect x="786.50" y="561.05" width="10.74" height="58.95" fill="#9bbb59"/>
<line x1="517.10" y1="541.50" x2="517.10" y2="623.50" class="a"/>
<line x1="517.10" y1="620.00" x2="805.60" y2="620.00" class="a"/>
<line x1="565.18" y1="620.00" x2="565.18" y2="623.50" class="a"/>
<line x1="613.27" y1="620.00" x2="613.27" y2="623.50" class="a"/>
<line x1="661.35" y1="620.00" x2="661.35" y2="623.50" class="a"/>
<line x1="709.43" y1="620.00" x2="709.43" y2="623.50" class="a"/>
<line x1="757.52" y1="620.00" x2="757.52" y2="623.50" class="a"/>
<line x1="805.60" y1="620.00" x2="805.60" y2="623.50" class="a"/>
<text x="541.14" y="639.60" text-anchor="middle" textLength="39.09" lengthAdjust="spacingAndGlyphs">Write Seq</text>
<text x="541.14" y="652.00" text-anchor="middle" textLength="33.57" lengthAdjust="spacingAndGlyphs">T:16 Q:4</text>
<text x="589.23" y="639.60" text-anchor="middle" textLength="39.09" lengthAdjust="spacingAndGlyphs">Write Seq</text>
<text x="589.23" y="652.00" text-anchor="middle" textLength="33.57" lengthAdjust="spacingAndGlyphs">T:16 Q:8</text>
<text x="637.31" y="639.60" text-anchor="middle" textLength="39.09" lengthAdjust="spacingAndGlyphs">Write Seq</text>
<text x="637.31" y="652.00" text-anchor="middle" textLength="38.51" lengthAdjust="spacingAndGlyphs">T:16 Q:16</text>
<text x="685.39" y="639.60" text-anchor="middle" textLength="40.17" lengthAdjust="spacingAndGlyphs">Write Rnd</text>
<text x="685.39" y="652.00" text-anchor="middle" textLength="33.57" lengthAdjust="spacingAndGlyphs">T:16 Q:4</text>
<text x="733.48" y="639.60" text-anchor="middle" textLength="40.17" lengthAdjust="spacingAndGlyphs">Write Rnd</text>
<text x="733.48" y="652.00" text-anchor="middle" textLength="33.57" lengthAdjust="spacingAndGlyphs">T:16 Q:8</text>
<text x="781.56" y="639.60" text-anchor="middle" textLength="40.17" lengthAdjust="spacingAndGlyphs">Write Rnd</text>
<text x="781.56" y="652.00" text-anchor="middle" textLength="38.51" lengthAdjust="spacingAndGlyphs">T:16 Q:16</text>
<rect x="821.30" y="577.10" width="6.3" height="5.2" fill="#4f81bd"/>
<text x="830.10" y="583.30" textLength="17.93" lengthAdjust="spacingAndGlyphs">Intel</text>
<rect x="821.30" y="595.00" width="6.3" height="5.2" fill="#c0504d"/>
<text x="830.10" y="601.20" textLength="28.98" lengthAdjust="spacingAndGlyphs">Emulex</text>
<rect x="821.30" y="613.00" width="6.3" height="5.2" fill="#9bbb59"/>
<text x="830.10" y="619.20" textLength="26.74" lengthAdjust="spacingAndGlyphs">QLogic</text>
<text x="671.50" y="524.70" text-anchor="middle" class="t" textLength="163" lengthAdjust="spacingAndGlyphs">IOPS - 64 KB Blocksize</text>
<line x1="111.60" y1="811.10" x2="115.60" y2="811.10" class="a"/>
<text x="106.10" y="814.20" text-anchor="end" textLength="5.07" lengthAdjust="spacingAndGlyphs">0</text>
<line x1="115.60" y1="791.58" x2="407.00" y2="791.58" class="g"/>
<line x1="111.60" y1="791.58" x2="115.60" y2="791.58" class="a"/>
<text x="106.10" y="794.68" text-anchor="end" textLength="10.14" lengthAdjust="spacingAndGlyphs">50</text>
<line x1="115.60" y1="772.05" x2="407.00" y2="772.05" class="g"/>
<line x1="111.60" y1="772.05" x2="115.60" y2="772.05" class="a"/>
<text x="106.10" y="775.15" text-anchor="end" textLength="15.21" lengthAdjust="spacingAndGlyphs">100</text>
<line x1="115.60" y1="752.52" x2="407.00" y2="752.52" class="g"/>
<line x1="111.60" y1="752.52" x2="115.60" y2="752.52" class="a"/>
<text x="106.10" y="755.62" text-anchor="end" textLength="15.21" lengthAdjust="spacingAndGlyphs">150</text>
<line x1="115.60" y1="733.00" x2="407.00" y2="733.00" class="g"/>
<line x1="111.60" y1="733.00" x2="115.60" y2="733.00" class="a"/>
<text x="106.10" y="736.10" text-anchor="end" textLength="15.21" lengthAdjust="spacingAndGlyphs">200</text>
<rect x="123.29" y="803.21" width="10.84" height="7.89" fill="#4f81bd"/>
<rect x="134.09" y="804.07" width="10.84" height="7.03" fill="#c0504d"/>
<rect x="144.88" y="802.00" width="10.84" height="9.10" fill="#9bbb59"/>
<rect x="171.86" y="792.04" width="10.84" height="19.06" fill="#4f81bd"/>
<rect x="182.65" y="794.93" width="10.84" height="16.17" fill="#c0504d"/>
<rect x="193.45" y="791.61" width="10.84" height="19.49" fill="#9bbb59"/>
<rect x="220.43" y="773.18" width="10.84" height="37.92" fill="#4f81bd"/>
<rect x="231.22" y="776.74" width="10.84" height="34.36" fill="#c0504d"/>
<rect x="242.01" y="772.36" width="10.84" height="38.74" fill="#9bbb59"/>
<rect x="268.99" y="796.46" width="10.84" height="14.64" fill="#4f81bd"/>
<rect x="279.79" y="797.08" width="10.84" height="14.02" fill="#c0504d"/>
<rect x="290.58" y="797.08" width="10.84" height="14.02" fill="#9bbb59"/>
<rect x="317.56" y="777.20" width="10.84" height="33.90" fill="#4f81bd"/>
<rect x="328.35" y="775.02" width="10.84" height="36.08" fill="#c0504d"/>
<rect x="339.15" y="782.24" width="10.84" height="28.86" fill="#9bbb59"/>
<rect x="366.13" y="745.69" width="10.84" height="65.41" fill="#4f81bd"/>
<rect x="376.92" y="740.42" width="10.84" height="70.68" fill="#c0504d"/>
<rect x="387.71" y="755.30" width="10.84" height="55.80" fill="#9bbb59"/>
<line x1="115.60" y1="733.00" x2="115.60" y2="814.60" class="a"/>
<line x1="115.60" y1="811.10" x2="407.00" y2="811.10" class="a"/>
<line x1="164.17" y1="811.10" x2="164.17" y2="814.60" class="a"/>
<line x1="212.73" y1="811.10" x2="212.73" y2="814.60" class="a"/>
<line x1="261.30" y1="811.10" x2="261.30" y2="814.60" class="a"/>
<line x1="309.87" y1="811.10" x2="309.87" y2="814.60" class="a"/>
<line x1="358.43" y1="811.10" x2="358.43" y2="814.60" class="a"/>
<line x1="407.00" y1="811.10" x2="407.00" y2="814.60" class="a"/>
<text x="139.88" y="830.70" text-anchor="middle" textLength="36.59" lengthAdjust="spacingAndGlyphs">Read Seq</text>
<text x="139.88" y="843.10" text-anchor="middle" textLength="33.57" lengthAdjust="spacingAndGlyphs">T:16 Q:4</text>
<text x="188.45" y="830.70" text-anchor="middle" textLength="36.59" lengthAdjust="spacingAndGlyphs">Read Seq</text>
<text x="188.45" y="843.10" text-anchor="middle" textLength="33.57" lengthAdjust="spacingAndGlyphs">T:16 Q:8</text>
<text x="237.02" y="830.70" text-anchor="middle" textLength="36.59" lengthAdjust="spacingAndGlyphs">Read Seq</text>
<text x="237.02" y="843.10" text-anchor="middle" textLength="38.51" lengthAdjust="spacingAndGlyphs">T:16 Q:16</text>
<text x="285.58" y="830.70" text-anchor="middle" textLength="37.67" lengthAdjust="spacingAndGlyphs">Read Rnd</text>
<text x="285.58" y="843.10" text-anchor="middle" textLength="33.57" lengthAdjust="spacingAndGlyphs">T:16 Q:4</text>
<text x="334.15" y="830.70" text-anchor="middle" textLength="37.67" lengthAdjust="spacingAndGlyphs">Read Rnd</text>
<text x="334.15" y="843.10" text-anchor="middle" textLength="33.57" lengthAdjust="spacingAndGlyphs">T:16 Q:8</text>
<text x="382.72" y="830.70" text-anchor="middle" textLength="37.67" lengthAdjust="spacingAndGlyphs">Read Rnd</text>
<text x="382.72" y="843.10" text-anchor="middle" textLength="38.51" lengthAdjust="spacingAndGlyphs">T:16 Q:16</text>
<rect x="423.50" y="768.00" width="6.3" height="5.2" fill="#4f81bd"/>
<text x="432.30" y="774.20" textLength="17.93" lengthAdjust="spacingAndGlyphs">Intel</text>
<rect x="423.50" y="786.20" width="6.3" height="5.2" fill="#c0504d"/>
<text x="432.30" y="792.40" textLength="28.98" lengthAdjust="spacingAndGlyphs">Emulex</text>
<rect x="423.50" y="804.10" width="6.3" height="5.2" fill="#9bbb59"/>
<text x="432.30" y="810.30" textLength="26.74" lengthAdjust="spacingAndGlyphs">QLogic</text>
<text x="275.50" y="715.80" text-anchor="middle" class="t" textLength="304.4" lengthAdjust="spacingAndGlyphs">SQLIO Average Latencies - 4KB Blocksize</text>
<line x1="498.60" y1="811.30" x2="502.60" y2="811.30" class="a"/>
<text x="493.10" y="814.40" text-anchor="end" textLength="5.07" lengthAdjust="spacingAndGlyphs">0</text>
<line x1="502.60" y1="798.32" x2="800.60" y2="798.32" class="g"/>
<line x1="498.60" y1="798.32" x2="502.60" y2="798.32" class="a"/>
<text x="493.10" y="801.42" text-anchor="end" textLength="10.14" lengthAdjust="spacingAndGlyphs">10</text>
<line x1="502.60" y1="785.33" x2="800.60" y2="785.33" class="g"/>
<line x1="498.60" y1="785.33" x2="502.60" y2="785.33" class="a"/>
<text x="493.10" y="788.43" text-anchor="end" textLength="10.14" lengthAdjust="spacingAndGlyphs">20</text>
<line x1="502.60" y1="772.35" x2="800.60" y2="772.35" class="g"/>
<line x1="498.60" y1="772.35" x2="502.60" y2="772.35" class="a"/>
<text x="493.10" y="775.45" text-anchor="end" textLength="10.14" lengthAdjust="spacingAndGlyphs">30</text>
<line x1="502.60" y1="759.37" x2="800.60" y2="759.37" class="g"/>
<line x1="498.60" y1="759.37" x2="502.60" y2="759.37" class="a"/>
<text x="493.10" y="762.47" text-anchor="end" textLength="10.14" lengthAdjust="spacingAndGlyphs">40</text>
<line x1="502.60" y1="746.38" x2="800.60" y2="746.38" class="g"/>
<line x1="498.60" y1="746.38" x2="502.60" y2="746.38" class="a"/>
<text x="493.10" y="749.48" text-anchor="end" textLength="10.14" lengthAdjust="spacingAndGlyphs">50</text>
<line x1="502.60" y1="733.40" x2="800.60" y2="733.40" class="g"/>
<line x1="498.60" y1="733.40" x2="502.60" y2="733.40" class="a"/>
<text x="493.10" y="736.50" text-anchor="end" textLength="10.14" lengthAdjust="spacingAndGlyphs">60</text>
<rect x="510.48" y="798.45" width="11.09" height="12.85" fill="#4f81bd"/>
<rect x="521.51" y="800.13" width="11.09" height="11.17" fill="#c0504d"/>
<rect x="532.55" y="802.21" width="11.09" height="9.09" fill="#9bbb59"/>
<rect x="560.14" y="782.74" width="11.09" height="28.56" fill="#4f81bd"/>
<rect x="571.18" y="787.93" width="11.09" height="23.37" fill="#c0504d"/>
<rect x="582.22" y="791.05" width="11.09" height="20.25" fill="#9bbb59"/>
<rect x="609.81" y="752.23" width="11.09" height="59.07" fill="#4f81bd"/>
<rect x="620.85" y="760.92" width="11.09" height="50.38" fill="#c0504d"/>
<rect x="631.89" y="768.45" width="11.09" height="42.84" fill="#9bbb59"/>
<rect x="659.48" y="796.89" width="11.09" height="14.41" fill="#4f81bd"/>
<rect x="670.51" y="798.45" width="11.09" height="12.85" fill="#c0504d"/>
<rect x="681.55" y="796.89" width="11.09" height="14.41" fill="#9bbb59"/>
<rect x="709.14" y="780.27" width="11.09" height="31.03" fill="#4f81bd"/>
<rect x="720.18" y="784.03" width="11.09" height="27.26" fill="#c0504d"/>
<rect x="731.22" y="780.27" width="11.09" height="31.03" fill="#9bbb59"/>
<rect x="758.81" y="747.81" width="11.09" height="63.49" fill="#4f81bd"/>
<rect x="769.85" y="754.17" width="11.09" height="57.13" fill="#c0504d"/>
<rect x="780.89" y="747.81" width="11.09" height="63.49" fill="#9bbb59"/>
<line x1="502.60" y1="733.40" x2="502.60" y2="814.80" class="a"/>
<line x1="502.60" y1="811.30" x2="800.60" y2="811.30" class="a"/>
<line x1="552.27" y1="811.30" x2="552.27" y2="814.80" class="a"/>
<line x1="601.93" y1="811.30" x2="601.93" y2="814.80" class="a"/>
<line x1="651.60" y1="811.30" x2="651.60" y2="814.80" class="a"/>
<line x1="701.27" y1="811.30" x2="701.27" y2="814.80" class="a"/>
<line x1="750.93" y1="811.30" x2="750.93" y2="814.80" class="a"/>
<line x1="800.60" y1="811.30" x2="800.60" y2="814.80" class="a"/>
<text x="527.43" y="830.90" text-anchor="middle" textLength="39.09" lengthAdjust="spacingAndGlyphs">Write Seq</text>
<text x="527.43" y="843.30" text-anchor="middle" textLength="33.57" lengthAdjust="spacingAndGlyphs">T:16 Q:4</text>
<text x="577.10" y="830.90" text-anchor="middle" textLength="39.09" lengthAdjust="spacingAndGlyphs">Write Seq</text>
<text x="577.10" y="843.30" text-anchor="middle" textLength="33.57" lengthAdjust="spacingAndGlyphs">T:16 Q:8</text>
<text x="626.77" y="830.90" text-anchor="middle" textLength="39.09" lengthAdjust="spacingAndGlyphs">Write Seq</text>
<text x="626.77" y="843.30" text-anchor="middle" textLength="38.51" lengthAdjust="spacingAndGlyphs">T:16 Q:16</text>
<text x="676.43" y="830.90" text-anchor="middle" textLength="40.17" lengthAdjust="spacingAndGlyphs">Write Rnd</text>
<text x="676.43" y="843.30" text-anchor="middle" textLength="33.57" lengthAdjust="spacingAndGlyphs">T:16 Q:4</text>
<text x="726.10" y="830.90" text-anchor="middle" textLength="40.17" lengthAdjust="spacingAndGlyphs">Write Rnd</text>
<text x="726.10" y="843.30" text-anchor="middle" textLength="33.57" lengthAdjust="spacingAndGlyphs">T:16 Q:8</text>
<text x="775.77" y="830.90" text-anchor="middle" textLength="40.17" lengthAdjust="spacingAndGlyphs">Write Rnd</text>
<text x="775.77" y="843.30" text-anchor="middle" textLength="38.51" lengthAdjust="spacingAndGlyphs">T:16 Q:16</text>
<rect x="816.40" y="768.00" width="6.3" height="5.2" fill="#4f81bd"/>
<text x="825.20" y="774.20" textLength="17.93" lengthAdjust="spacingAndGlyphs">Intel</text>
<rect x="816.40" y="786.20" width="6.3" height="5.2" fill="#c0504d"/>
<text x="825.20" y="792.40" textLength="28.98" lengthAdjust="spacingAndGlyphs">Emulex</text>
<rect x="816.40" y="804.10" width="6.3" height="5.2" fill="#9bbb59"/>
<text x="825.20" y="810.30" textLength="26.74" lengthAdjust="spacingAndGlyphs">QLogic</text>
<text x="669.00" y="715.80" text-anchor="middle" class="t" textLength="304.4" lengthAdjust="spacingAndGlyphs">SQLIO Average Latencies - 4KB Blocksize</text>
<line x1="111.60" y1="978.00" x2="115.60" y2="978.00" class="a"/>
<text x="106.10" y="981.10" text-anchor="end" textLength="5.07" lengthAdjust="spacingAndGlyphs">0</text>
<line x1="115.60" y1="961.94" x2="407.00" y2="961.94" class="g"/>
<line x1="111.60" y1="961.94" x2="115.60" y2="961.94" class="a"/>
<text x="106.10" y="965.04" text-anchor="end" textLength="10.14" lengthAdjust="spacingAndGlyphs">50</text>
<line x1="115.60" y1="945.88" x2="407.00" y2="945.88" class="g"/>
<line x1="111.60" y1="945.88" x2="115.60" y2="945.88" class="a"/>
<text x="106.10" y="948.98" text-anchor="end" textLength="15.21" lengthAdjust="spacingAndGlyphs">100</text>
<line x1="115.60" y1="929.82" x2="407.00" y2="929.82" class="g"/>
<line x1="111.60" y1="929.82" x2="115.60" y2="929.82" class="a"/>
<text x="106.10" y="932.92" text-anchor="end" textLength="15.21" lengthAdjust="spacingAndGlyphs">150</text>
<line x1="115.60" y1="913.76" x2="407.00" y2="913.76" class="g"/>
<line x1="111.60" y1="913.76" x2="115.60" y2="913.76" class="a"/>
<text x="106.10" y="916.86" text-anchor="end" textLength="15.21" lengthAdjust="spacingAndGlyphs">200</text>
<line x1="115.60" y1="897.70" x2="407.00" y2="897.70" class="g"/>
<line x1="111.60" y1="897.70" x2="115.60" y2="897.70" class="a"/>
<text x="106.10" y="900.80" text-anchor="end" textLength="15.21" lengthAdjust="spacingAndGlyphs">250</text>
<rect x="123.29" y="968.88" width="10.84" height="9.12" fill="#4f81bd"/>
<rect x="134.09" y="970.13" width="10.84" height="7.87" fill="#c0504d"/>
<rect x="144.88" y="968.88" width="10.84" height="9.12" fill="#9bbb59"/>
<rect x="171.86" y="959.18" width="10.84" height="18.82" fill="#4f81bd"/>
<rect x="182.65" y="961.84" width="10.84" height="16.16" fill="#c0504d"/>
<rect x="193.45" y="959.98" width="10.84" height="18.02" fill="#9bbb59"/>
<rect x="220.43" y="934.96" width="10.84" height="43.04" fill="#4f81bd"/>
<rect x="231.22" y="936.60" width="10.84" height="41.40" fill="#c0504d"/>
<rect x="242.01" y="941.16" width="10.84" height="36.84" fill="#9bbb59"/>
<rect x="268.99" y="965.12" width="10.84" height="12.88" fill="#4f81bd"/>
<rect x="279.79" y="966.21" width="10.84" height="11.79" fill="#c0504d"/>
<rect x="290.58" y="963.80" width="10.84" height="14.20" fill="#9bbb59"/>
<rect x="317.56" y="950.73" width="10.84" height="27.27" fill="#4f81bd"/>
<rect x="328.35" y="953.78" width="10.84" height="24.22" fill="#c0504d"/>
<rect x="339.15" y="954.65" width="10.84" height="23.35" fill="#9bbb59"/>
<rect x="366.13" y="916.23" width="10.84" height="61.77" fill="#4f81bd"/>
<rect x="376.92" y="913.63" width="10.84" height="64.37" fill="#c0504d"/>
<rect x="387.71" y="930.66" width="10.84" height="47.34" fill="#9bbb59"/>
<line x1="115.60" y1="897.70" x2="115.60" y2="981.50" class="a"/>
<line x1="115.60" y1="978.00" x2="407.00" y2="978.00" class="a"/>
<line x1="164.17" y1="978.00" x2="164.17" y2="981.50" class="a"/>
<line x1="212.73" y1="978.00" x2="212.73" y2="981.50" class="a"/>
<line x1="261.30" y1="978.00" x2="261.30" y2="981.50" class="a"/>
<line x1="309.87" y1="978.00" x2="309.87" y2="981.50" class="a"/>
<line x1="358.43" y1="978.00" x2="358.43" y2="981.50" class="a"/>
<line x1="407.00" y1="978.00" x2="407.00" y2="981.50" class="a"/>
<text x="139.88" y="997.60" text-anchor="middle" textLength="36.59" lengthAdjust="spacingAndGlyphs">Read Seq</text>
<text x="139.88" y="1010.00" text-anchor="middle" textLength="33.57" lengthAdjust="spacingAndGlyphs">T:16 Q:4</text>
<text x="188.45" y="997.60" text-anchor="middle" textLength="36.59" lengthAdjust="spacingAndGlyphs">Read Seq</text>
<text x="188.45" y="1010.00" text-anchor="middle" textLength="33.57" lengthAdjust="spacingAndGlyphs">T:16 Q:8</text>
<text x="237.02" y="997.60" text-anchor="middle" textLength="36.59" lengthAdjust="spacingAndGlyphs">Read Seq</text>
<text x="237.02" y="1010.00" text-anchor="middle" textLength="38.51" lengthAdjust="spacingAndGlyphs">T:16 Q:16</text>
<text x="285.58" y="997.60" text-anchor="middle" textLength="37.67" lengthAdjust="spacingAndGlyphs">Read Rnd</text>
<text x="285.58" y="1010.00" text-anchor="middle" textLength="33.57" lengthAdjust="spacingAndGlyphs">T:16 Q:4</text>
<text x="334.15" y="997.60" text-anchor="middle" textLength="37.67" lengthAdjust="spacingAndGlyphs">Read Rnd</text>
<text x="334.15" y="1010.00" text-anchor="middle" textLength="33.57" lengthAdjust="spacingAndGlyphs">T:16 Q:8</text>
<text x="382.72" y="997.60" text-anchor="middle" textLength="37.67" lengthAdjust="spacingAndGlyphs">Read Rnd</text>
<text x="382.72" y="1010.00" text-anchor="middle" textLength="38.51" lengthAdjust="spacingAndGlyphs">T:16 Q:16</text>
<rect x="423.50" y="933.50" width="6.3" height="5.2" fill="#4f81bd"/>
<text x="432.30" y="939.70" textLength="17.93" lengthAdjust="spacingAndGlyphs">Intel</text>
<rect x="423.50" y="952.00" width="6.3" height="5.2" fill="#c0504d"/>
<text x="432.30" y="958.20" textLength="28.98" lengthAdjust="spacingAndGlyphs">Emulex</text>
<rect x="423.50" y="970.60" width="6.3" height="5.2" fill="#9bbb59"/>
<text x="432.30" y="976.80" textLength="26.74" lengthAdjust="spacingAndGlyphs">QLogic</text>
<text x="275.50" y="879.90" text-anchor="middle" class="t" textLength="304.4" lengthAdjust="spacingAndGlyphs">SQLIO Average Latencies - 8KB Blocksize</text>
<line x1="504.60" y1="977.60" x2="508.60" y2="977.60" class="a"/>
<text x="499.10" y="980.70" text-anchor="end" textLength="5.07" lengthAdjust="spacingAndGlyphs">0</text>
<line x1="508.60" y1="961.54" x2="800.60" y2="961.54" class="g"/>
<line x1="504.60" y1="961.54" x2="508.60" y2="961.54" class="a"/>
<text x="499.10" y="964.64" text-anchor="end" textLength="10.14" lengthAdjust="spacingAndGlyphs">20</text>
<line x1="508.60" y1="945.48" x2="800.60" y2="945.48" class="g"/>
<line x1="504.60" y1="945.48" x2="508.60" y2="945.48" class="a"/>
<text x="499.10" y="948.58" text-anchor="end" textLength="10.14" lengthAdjust="spacingAndGlyphs">40</text>
<line x1="508.60" y1="929.42" x2="800.60" y2="929.42" class="g"/>
<line x1="504.60" y1="929.42" x2="508.60" y2="929.42" class="a"/>
<text x="499.10" y="932.52" text-anchor="end" textLength="10.14" lengthAdjust="spacingAndGlyphs">60</text>
<line x1="508.60" y1="913.36" x2="800.60" y2="913.36" class="g"/>
<line x1="504.60" y1="913.36" x2="508.60" y2="913.36" class="a"/>
<text x="499.10" y="916.46" text-anchor="end" textLength="10.14" lengthAdjust="spacingAndGlyphs">80</text>
<line x1="508.60" y1="897.30" x2="800.60" y2="897.30" class="g"/>
<line x1="504.60" y1="897.30" x2="508.60" y2="897.30" class="a"/>
<text x="499.10" y="900.40" text-anchor="end" textLength="15.21" lengthAdjust="spacingAndGlyphs">100</text>
<rect x="516.31" y="964.99" width="10.86" height="12.61" fill="#4f81bd"/>
<rect x="527.13" y="966.04" width="10.86" height="11.56" fill="#c0504d"/>
<rect x="537.94" y="966.04" width="10.86" height="11.56" fill="#9bbb59"/>
<rect x="564.98" y="951.90" width="10.86" height="25.70" fill="#4f81bd"/>
<rect x="575.79" y="952.95" width="10.86" height="24.65" fill="#c0504d"/>
<rect x="586.61" y="951.90" width="10.86" height="25.70" fill="#9bbb59"/>
<rect x="613.64" y="925.89" width="10.86" height="51.71" fill="#4f81bd"/>
<rect x="624.46" y="927.89" width="10.86" height="49.71" fill="#c0504d"/>
<rect x="635.27" y="925.89" width="10.86" height="51.71" fill="#9bbb59"/>
<rect x="662.31" y="962.42" width="10.86" height="15.18" fill="#4f81bd"/>
<rect x="673.13" y="964.19" width="10.86" height="13.41" fill="#c0504d"/>
<rect x="683.94" y="962.02" width="10.86" height="15.58" fill="#9bbb59"/>
<rect x="710.98" y="946.20" width="10.86" height="31.40" fill="#4f81bd"/>
<rect x="721.79" y="949.50" width="10.86" height="28.11" fill="#c0504d"/>
<rect x="732.61" y="942.75" width="10.86" height="34.85" fill="#9bbb59"/>
<rect x="759.64" y="913.36" width="10.86" height="64.24" fill="#4f81bd"/>
<rect x="770.46" y="920.11" width="10.86" height="57.49" fill="#c0504d"/>
<rect x="781.27" y="907.18" width="10.86" height="70.42" fill="#9bbb59"/>
<line x1="508.60" y1="897.30" x2="508.60" y2="981.10" class="a"/>
<line x1="508.60" y1="977.60" x2="800.60" y2="977.60" class="a"/>
<line x1="557.27" y1="977.60" x2="557.27" y2="981.10" class="a"/>
<line x1="605.93" y1="977.60" x2="605.93" y2="981.10" class="a"/>
<line x1="654.60" y1="977.60" x2="654.60" y2="981.10" class="a"/>
<line x1="703.27" y1="977.60" x2="703.27" y2="981.10" class="a"/>
<line x1="751.93" y1="977.60" x2="751.93" y2="981.10" class="a"/>
<line x1="800.60" y1="977.60" x2="800.60" y2="981.10" class="a"/>
<text x="532.93" y="997.20" text-anchor="middle" textLength="39.09" lengthAdjust="spacingAndGlyphs">Write Seq</text>
<text x="532.93" y="1009.60" text-anchor="middle" textLength="33.57" lengthAdjust="spacingAndGlyphs">T:16 Q:4</text>
<text x="581.60" y="997.20" text-anchor="middle" textLength="39.09" lengthAdjust="spacingAndGlyphs">Write Seq</text>
<text x="581.60" y="1009.60" text-anchor="middle" textLength="33.57" lengthAdjust="spacingAndGlyphs">T:16 Q:8</text>
<text x="630.27" y="997.20" text-anchor="middle" textLength="39.09" lengthAdjust="spacingAndGlyphs">Write Seq</text>
<text x="630.27" y="1009.60" text-anchor="middle" textLength="38.51" lengthAdjust="spacingAndGlyphs">T:16 Q:16</text>
<text x="678.93" y="997.20" text-anchor="middle" textLength="40.17" lengthAdjust="spacingAndGlyphs">Write Rnd</text>
<text x="678.93" y="1009.60" text-anchor="middle" textLength="33.57" lengthAdjust="spacingAndGlyphs">T:16 Q:4</text>
<text x="727.60" y="997.20" text-anchor="middle" textLength="40.17" lengthAdjust="spacingAndGlyphs">Write Rnd</text>
<text x="727.60" y="1009.60" text-anchor="middle" textLength="33.57" lengthAdjust="spacingAndGlyphs">T:16 Q:8</text>
<text x="776.27" y="997.20" text-anchor="middle" textLength="40.17" lengthAdjust="spacingAndGlyphs">Write Rnd</text>
<text x="776.27" y="1009.60" text-anchor="middle" textLength="38.51" lengthAdjust="spacingAndGlyphs">T:16 Q:16</text>
<rect x="816.40" y="933.50" width="6.3" height="5.2" fill="#4f81bd"/>
<text x="825.20" y="939.70" textLength="17.93" lengthAdjust="spacingAndGlyphs">Intel</text>
<rect x="816.40" y="952.00" width="6.3" height="5.2" fill="#c0504d"/>
<text x="825.20" y="958.20" textLength="28.98" lengthAdjust="spacingAndGlyphs">Emulex</text>
<rect x="816.40" y="970.60" width="6.3" height="5.2" fill="#9bbb59"/>
<text x="825.20" y="976.80" textLength="26.74" lengthAdjust="spacingAndGlyphs">QLogic</text>
<text x="669.00" y="879.90" text-anchor="middle" class="t" textLength="304.4" lengthAdjust="spacingAndGlyphs">SQLIO Average Latencies - 8KB Blocksize</text>
<line x1="111.60" y1="1146.50" x2="115.60" y2="1146.50" class="a"/>
<text x="106.10" y="1149.60" text-anchor="end" textLength="5.07" lengthAdjust="spacingAndGlyphs">0</text>
<line x1="115.60" y1="1132.03" x2="406.80" y2="1132.03" class="g"/>
<line x1="111.60" y1="1132.03" x2="115.60" y2="1132.03" class="a"/>
<text x="106.10" y="1135.12" text-anchor="end" textLength="15.21" lengthAdjust="spacingAndGlyphs">100</text>
<line x1="115.60" y1="1117.55" x2="406.80" y2="1117.55" class="g"/>
<line x1="111.60" y1="1117.55" x2="115.60" y2="1117.55" class="a"/>
<text x="106.10" y="1120.65" text-anchor="end" textLength="15.21" lengthAdjust="spacingAndGlyphs">200</text>
<line x1="115.60" y1="1103.07" x2="406.80" y2="1103.07" class="g"/>
<line x1="111.60" y1="1103.07" x2="115.60" y2="1103.07" class="a"/>
<text x="106.10" y="1106.17" text-anchor="end" textLength="15.21" lengthAdjust="spacingAndGlyphs">300</text>
<line x1="115.60" y1="1088.60" x2="406.80" y2="1088.60" class="g"/>
<line x1="111.60" y1="1088.60" x2="115.60" y2="1088.60" class="a"/>
<text x="106.10" y="1091.70" text-anchor="end" textLength="15.21" lengthAdjust="spacingAndGlyphs">400</text>
<rect x="123.29" y="1134.67" width="10.84" height="11.83" fill="#4f81bd"/>
<rect x="134.07" y="1134.67" width="10.84" height="11.83" fill="#c0504d"/>
<rect x="144.86" y="1133.83" width="10.84" height="12.67" fill="#9bbb59"/>
<rect x="171.82" y="1122.43" width="10.84" height="24.07" fill="#4f81bd"/>
<rect x="182.61" y="1123.05" width="10.84" height="23.45" fill="#c0504d"/>
<rect x="193.39" y="1121.60" width="10.84" height="24.90" fill="#9bbb59"/>
<rect x="220.36" y="1098.15" width="10.84" height="48.35" fill="#4f81bd"/>
<rect x="231.14" y="1099.02" width="10.84" height="47.48" fill="#c0504d"/>
<rect x="241.93" y="1095.84" width="10.84" height="50.66" fill="#9bbb59"/>
<rect x="268.89" y="1134.75" width="10.84" height="11.75" fill="#4f81bd"/>
<rect x="279.67" y="1134.75" width="10.84" height="11.75" fill="#c0504d"/>
<rect x="290.46" y="1134.09" width="10.84" height="12.41" fill="#9bbb59"/>
<rect x="317.42" y="1122.56" width="10.84" height="23.94" fill="#4f81bd"/>
<rect x="328.21" y="1123.43" width="10.84" height="23.07" fill="#c0504d"/>
<rect x="338.99" y="1121.89" width="10.84" height="24.61" fill="#9bbb59"/>
<rect x="365.96" y="1097.31" width="10.84" height="49.19" fill="#4f81bd"/>
<rect x="376.74" y="1099.49" width="10.84" height="47.01" fill="#c0504d"/>
<rect x="387.53" y="1096.43" width="10.84" height="50.07" fill="#9bbb59"/>
<line x1="115.60" y1="1088.60" x2="115.60" y2="1150.00" class="a"/>
<line x1="115.60" y1="1146.50" x2="406.80" y2="1146.50" class="a"/>
<line x1="164.13" y1="1146.50" x2="164.13" y2="1150.00" class="a"/>
<line x1="212.67" y1="1146.50" x2="212.67" y2="1150.00" class="a"/>
<line x1="261.20" y1="1146.50" x2="261.20" y2="1150.00" class="a"/>
<line x1="309.73" y1="1146.50" x2="309.73" y2="1150.00" class="a"/>
<line x1="358.27" y1="1146.50" x2="358.27" y2="1150.00" class="a"/>
<line x1="406.80" y1="1146.50" x2="406.80" y2="1150.00" class="a"/>
<text x="139.87" y="1166.10" text-anchor="middle" textLength="36.59" lengthAdjust="spacingAndGlyphs">Read Seq</text>
<text x="139.87" y="1178.50" text-anchor="middle" textLength="33.57" lengthAdjust="spacingAndGlyphs">T:16 Q:4</text>
<text x="188.40" y="1166.10" text-anchor="middle" textLength="36.59" lengthAdjust="spacingAndGlyphs">Read Seq</text>
<text x="188.40" y="1178.50" text-anchor="middle" textLength="33.57" lengthAdjust="spacingAndGlyphs">T:16 Q:8</text>
<text x="236.93" y="1166.10" text-anchor="middle" textLength="36.59" lengthAdjust="spacingAndGlyphs">Read Seq</text>
<text x="236.93" y="1178.50" text-anchor="middle" textLength="38.51" lengthAdjust="spacingAndGlyphs">T:16 Q:16</text>
<text x="285.47" y="1166.10" text-anchor="middle" textLength="37.67" lengthAdjust="spacingAndGlyphs">Read Rnd</text>
<text x="285.47" y="1178.50" text-anchor="middle" textLength="33.57" lengthAdjust="spacingAndGlyphs">T:16 Q:4</text>
<text x="334.00" y="1166.10" text-anchor="middle" textLength="37.67" lengthAdjust="spacingAndGlyphs">Read Rnd</text>
<text x="334.00" y="1178.50" text-anchor="middle" textLength="33.57" lengthAdjust="spacingAndGlyphs">T:16 Q:8</text>
<text x="382.53" y="1166.10" text-anchor="middle" textLength="37.67" lengthAdjust="spacingAndGlyphs">Read Rnd</text>
<text x="382.53" y="1178.50" text-anchor="middle" textLength="38.51" lengthAdjust="spacingAndGlyphs">T:16 Q:16</text>
<rect x="423.20" y="1113.90" width="6.3" height="5.2" fill="#4f81bd"/>
<text x="432.00" y="1120.10" textLength="17.93" lengthAdjust="spacingAndGlyphs">Intel</text>
<rect x="423.20" y="1132.40" width="6.3" height="5.2" fill="#c0504d"/>
<text x="432.00" y="1138.60" textLength="28.98" lengthAdjust="spacingAndGlyphs">Emulex</text>
<rect x="423.20" y="1150.90" width="6.3" height="5.2" fill="#9bbb59"/>
<text x="432.00" y="1157.10" textLength="26.74" lengthAdjust="spacingAndGlyphs">QLogic</text>
<text x="275.50" y="1049.20" text-anchor="middle" class="t" textLength="238.5" lengthAdjust="spacingAndGlyphs">SQLIO Average Latencies - 64KB</text>
<text x="275.50" y="1070.90" text-anchor="middle" class="t" textLength="69.6" lengthAdjust="spacingAndGlyphs">Blocksize</text>
<line x1="504.60" y1="1146.50" x2="508.60" y2="1146.50" class="a"/>
<text x="499.10" y="1149.60" text-anchor="end" textLength="5.07" lengthAdjust="spacingAndGlyphs">0</text>
<line x1="508.60" y1="1127.20" x2="800.60" y2="1127.20" class="g"/>
<line x1="504.60" y1="1127.20" x2="508.60" y2="1127.20" class="a"/>
<text x="499.10" y="1130.30" text-anchor="end" textLength="15.21" lengthAdjust="spacingAndGlyphs">200</text>
<line x1="508.60" y1="1107.90" x2="800.60" y2="1107.90" class="g"/>
<line x1="504.60" y1="1107.90" x2="508.60" y2="1107.90" class="a"/>
<text x="499.10" y="1111.00" text-anchor="end" textLength="15.21" lengthAdjust="spacingAndGlyphs">400</text>
<line x1="508.60" y1="1088.60" x2="800.60" y2="1088.60" class="g"/>
<line x1="504.60" y1="1088.60" x2="508.60" y2="1088.60" class="a"/>
<text x="499.10" y="1091.70" text-anchor="end" textLength="15.21" lengthAdjust="spacingAndGlyphs">600</text>
<rect x="516.31" y="1134.67" width="10.86" height="11.83" fill="#4f81bd"/>
<rect x="527.13" y="1135.50" width="10.86" height="11.00" fill="#c0504d"/>
<rect x="537.94" y="1134.67" width="10.86" height="11.83" fill="#9bbb59"/>
<rect x="564.98" y="1122.42" width="10.86" height="24.08" fill="#4f81bd"/>
<rect x="575.79" y="1124.71" width="10.86" height="21.79" fill="#c0504d"/>
<rect x="586.61" y="1121.60" width="10.86" height="24.90" fill="#9bbb59"/>
<rect x="613.64" y="1098.15" width="10.86" height="48.35" fill="#4f81bd"/>
<rect x="624.46" y="1102.71" width="10.86" height="43.79" fill="#c0504d"/>
<rect x="635.27" y="1097.73" width="10.86" height="48.77" fill="#9bbb59"/>
<rect x="662.31" y="1134.10" width="10.86" height="12.40" fill="#4f81bd"/>
<rect x="673.13" y="1134.75" width="10.86" height="11.75" fill="#c0504d"/>
<rect x="683.94" y="1134.10" width="10.86" height="12.40" fill="#9bbb59"/>
<rect x="710.98" y="1121.04" width="10.86" height="25.46" fill="#4f81bd"/>
<rect x="721.79" y="1123.44" width="10.86" height="23.06" fill="#c0504d"/>
<rect x="732.61" y="1120.17" width="10.86" height="26.33" fill="#9bbb59"/>
<rect x="759.64" y="1095.59" width="10.86" height="50.91" fill="#4f81bd"/>
<rect x="770.46" y="1100.37" width="10.86" height="46.13" fill="#c0504d"/>
<rect x="781.27" y="1094.29" width="10.86" height="52.21" fill="#9bbb59"/>
<line x1="508.60" y1="1088.60" x2="508.60" y2="1150.00" class="a"/>
<line x1="508.60" y1="1146.50" x2="800.60" y2="1146.50" class="a"/>
<line x1="557.27" y1="1146.50" x2="557.27" y2="1150.00" class="a"/>
<line x1="605.93" y1="1146.50" x2="605.93" y2="1150.00" class="a"/>
<line x1="654.60" y1="1146.50" x2="654.60" y2="1150.00" class="a"/>
<line x1="703.27" y1="1146.50" x2="703.27" y2="1150.00" class="a"/>
<line x1="751.93" y1="1146.50" x2="751.93" y2="1150.00" class="a"/>
<line x1="800.60" y1="1146.50" x2="800.60" y2="1150.00" class="a"/>
<text x="532.93" y="1166.10" text-anchor="middle" textLength="39.09" lengthAdjust="spacingAndGlyphs">Write Seq</text>
<text x="532.93" y="1178.50" text-anchor="middle" textLength="33.57" lengthAdjust="spacingAndGlyphs">T:16 Q:4</text>
<text x="581.60" y="1166.10" text-anchor="middle" textLength="39.09" lengthAdjust="spacingAndGlyphs">Write Seq</text>
<text x="581.60" y="1178.50" text-anchor="middle" textLength="33.57" lengthAdjust="spacingAndGlyphs">T:16 Q:8</text>
<text x="630.27" y="1166.10" text-anchor="middle" textLength="39.09" lengthAdjust="spacingAndGlyphs">Write Seq</text>
<text x="630.27" y="1178.50" text-anchor="middle" textLength="38.51" lengthAdjust="spacingAndGlyphs">T:16 Q:16</text>
<text x="678.93" y="1166.10" text-anchor="middle" textLength="40.17" lengthAdjust="spacingAndGlyphs">Write Rnd</text>
<text x="678.93" y="1178.50" text-anchor="middle" textLength="33.57" lengthAdjust="spacingAndGlyphs">T:16 Q:4</text>
<text x="727.60" y="1166.10" text-anchor="middle" textLength="40.17" lengthAdjust="spacingAndGlyphs">Write Rnd</text>
<text x="727.60" y="1178.50" text-anchor="middle" textLength="33.57" lengthAdjust="spacingAndGlyphs">T:16 Q:8</text>
<text x="776.27" y="1166.10" text-anchor="middle" textLength="40.17" lengthAdjust="spacingAndGlyphs">Write Rnd</text>
<text x="776.27" y="1178.50" text-anchor="middle" textLength="38.51" lengthAdjust="spacingAndGlyphs">T:16 Q:16</text>
<rect x="816.20" y="1113.90" width="6.3" height="5.2" fill="#4f81bd"/>
<text x="825.00" y="1120.10" textLength="17.93" lengthAdjust="spacingAndGlyphs">Intel</text>
<rect x="816.20" y="1132.40" width="6.3" height="5.2" fill="#c0504d"/>
<text x="825.00" y="1138.60" textLength="28.98" lengthAdjust="spacingAndGlyphs">Emulex</text>
<rect x="816.20" y="1150.90" width="6.3" height="5.2" fill="#9bbb59"/>
<text x="825.00" y="1157.10" textLength="26.74" lengthAdjust="spacingAndGlyphs">QLogic</text>
<text x="669.00" y="1049.20" text-anchor="middle" class="t" textLength="238.5" lengthAdjust="spacingAndGlyphs">SQLIO Average Latencies - 64KB</text>
<text x="669.00" y="1070.90" text-anchor="middle" class="t" textLength="69.6" lengthAdjust="spacingAndGlyphs">Blocksize</text>
</svg>
</body></html>
